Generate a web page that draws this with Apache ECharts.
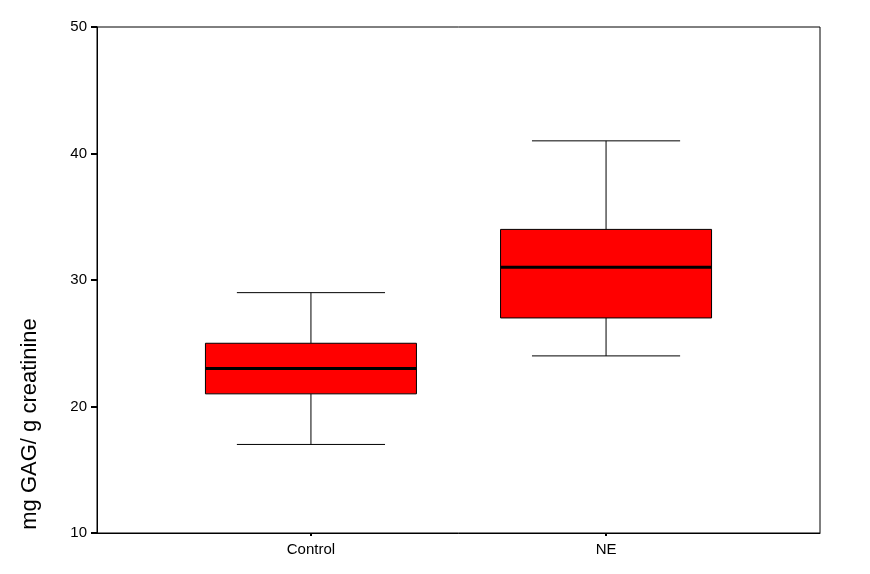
<!DOCTYPE html>
<html><head><meta charset="utf-8">
<script src="https://cdn.jsdelivr.net/npm/echarts@6/dist/echarts.min.js"></script>
<style>html,body{margin:0;padding:0;background:#fff}#c{width:870px;height:574px}</style>
</head><body><div id="c"></div>
<script>
var categories = ['Control', 'NE'];
var positions = [1, 2];
var whiskerLow = [17, 24];
var q1 = [21, 27];
var median = [23, 31];
var q3 = [25, 34];
var whiskerHigh = [29, 41];
var yTicks = [10, 20, 30, 40, 50];

var data = categories.map(function (c, i) {
  return [positions[i], whiskerLow[i], q1[i], median[i], q3[i], whiskerHigh[i]];
});

var chart = echarts.init(document.getElementById('c'));
chart.setOption({
  animation: false,
  grid: { left: 97, right: 50, top: 27, bottom: 41, show: true, borderColor: '#000', borderWidth: 1, backgroundColor: 'transparent', containLabel: false, outerBoundsMode: 'none' },
  xAxis: {
    type: 'value', min: 0.275, max: 2.725,
    splitLine: { show: false },
    axisLine: { show: true, lineStyle: { color: '#000', width: 1 } },
    axisTick: { show: true, customValues: positions, length: 3, lineStyle: { color: '#000', width: 2 } },
    axisLabel: {
      customValues: positions, color: '#000', fontFamily: 'Liberation Sans, Arial', fontSize: 15, margin: 9,
      formatter: function (v) { var i = positions.indexOf(v); return i >= 0 ? categories[i] : ''; }
    }
  },
  yAxis: {
    type: 'value', min: 10, max: 50, interval: 10,
    name: 'mg GAG/ g creatinine', nameLocation: 'middle', nameRotate: 90, nameGap: 56,
    nameTextStyle: { color: '#000', fontFamily: 'Liberation Sans, Arial', fontSize: 22, padding: [0, 288, 0, 0] },
    splitLine: { show: false },
    axisLine: { show: true, lineStyle: { color: '#000', width: 1 } },
    axisTick: { show: true, length: 6, lineStyle: { color: '#000', width: 2 } },
    axisLabel: { color: '#000', fontFamily: 'Liberation Sans, Arial', fontSize: 15, margin: 10 }
  },
  series: [{
    type: 'custom',
    data: data,
    renderItem: function (params, api) {
      var x = api.value(0);
      var lo = api.coord([x, api.value(1)]);
      var b1 = api.coord([x, api.value(2)]);
      var md = api.coord([x, api.value(3)]);
      var b3 = api.coord([x, api.value(4)]);
      var hi = api.coord([x, api.value(5)]);
      var bw = api.size([0.715, 0])[0];
      var cw = api.size([0.502, 0])[0];
      var cx = lo[0];
      var ls = { stroke: '#000', lineWidth: 1 };
      return {
        type: 'group',
        children: [
          { type: 'line', shape: { x1: cx, y1: hi[1], x2: cx, y2: b3[1] }, style: ls },
          { type: 'line', shape: { x1: cx, y1: b1[1], x2: cx, y2: lo[1] }, style: ls },
          { type: 'line', shape: { x1: cx - cw / 2, y1: hi[1], x2: cx + cw / 2, y2: hi[1] }, style: ls },
          { type: 'line', shape: { x1: cx - cw / 2, y1: lo[1], x2: cx + cw / 2, y2: lo[1] }, style: ls },
          { type: 'rect', shape: { x: cx - bw / 2, y: b3[1], width: bw, height: b1[1] - b3[1] }, style: { fill: '#ff0000', stroke: '#000', lineWidth: 1 } },
          { type: 'line', shape: { x1: cx - bw / 2, y1: md[1], x2: cx + bw / 2, y2: md[1] }, style: { stroke: '#000', lineWidth: 3 } }
        ]
      };
    }
  }]
});
</script></body></html>
